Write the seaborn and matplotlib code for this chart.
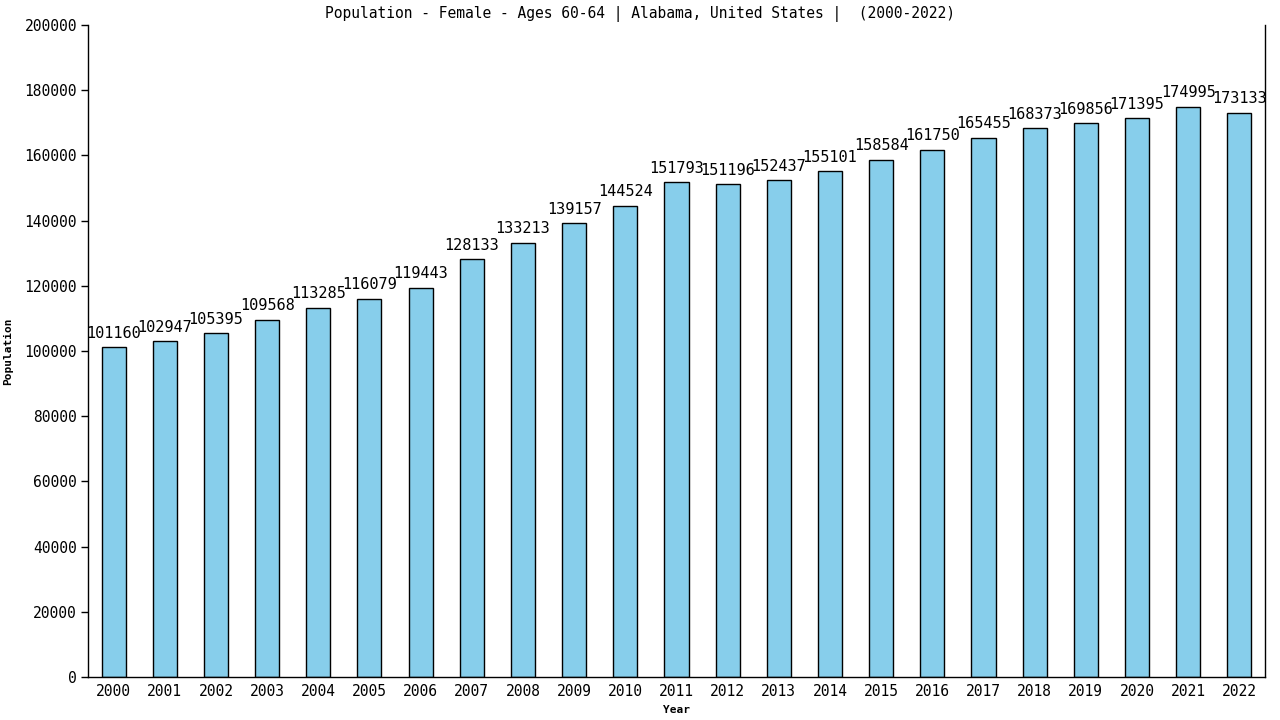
import numpy as np
import pandas as pd
import matplotlib.pyplot as plt
import seaborn as sns

years = [str(y) for y in range(2000, 2023)]
population = [101160, 102947, 105395, 109568, 113285, 116079, 119443, 128133,
              133213, 139157, 144524, 151793, 151196, 152437, 155101, 158584,
              161750, 165455, 168373, 169856, 171395, 174995, 173133]
yticks = list(range(0, 200001, 20000))

sns.set_theme(style="white")
plt.rcParams["font.family"] = ["DejaVu Sans Mono", "DejaVu Sans"]
plt.rcParams["text.color"] = "black"
plt.rcParams["axes.labelcolor"] = "black"
plt.rcParams["xtick.color"] = "black"
plt.rcParams["ytick.color"] = "black"

df = pd.DataFrame({"year": years, "population": population})

fig = plt.figure(figsize=(12.8, 7.2), dpi=100)
ax = fig.add_axes([0.06875, 0.0597, 0.9195, 0.9056])
sns.barplot(data=df, x="year", y="population", color="#87CEEB",
            edgecolor="black", linewidth=1, width=0.47, saturation=1, ax=ax)

# Werte über den Balken
for i, v in enumerate(population):
    ax.text(i, v + 2000, str(v), ha="center", va="bottom", fontsize=11, color="black")

ax.set_xlim(-0.5, len(years) - 0.5)
ax.set_ylim(0, 200000)
ax.set_yticks(yticks)
ax.set_yticklabels([str(t) for t in yticks], fontsize=10.5)
ax.tick_params(axis="x", labelsize=10.5, length=0, pad=5)
ax.tick_params(axis="y", length=5, width=1, direction="out", left=True, pad=3)

for s in ["left", "bottom", "right"]:
    ax.spines[s].set_visible(True)
    ax.spines[s].set_color("black")
    ax.spines[s].set_linewidth(1)
ax.spines["top"].set_visible(False)

ax.set_xlabel("Year", fontsize=8, fontweight="bold", labelpad=4)
ax.set_ylabel("Population", fontsize=8, fontweight="bold", labelpad=8)
fig.suptitle("Population - Female - Ages 60-64 | Alabama, United States |  (2000-2022)",
             fontsize=10.5, x=0.5, y=0.991, va="top")

fig.savefig("out.png", dpi=100)
plt.close(fig)
